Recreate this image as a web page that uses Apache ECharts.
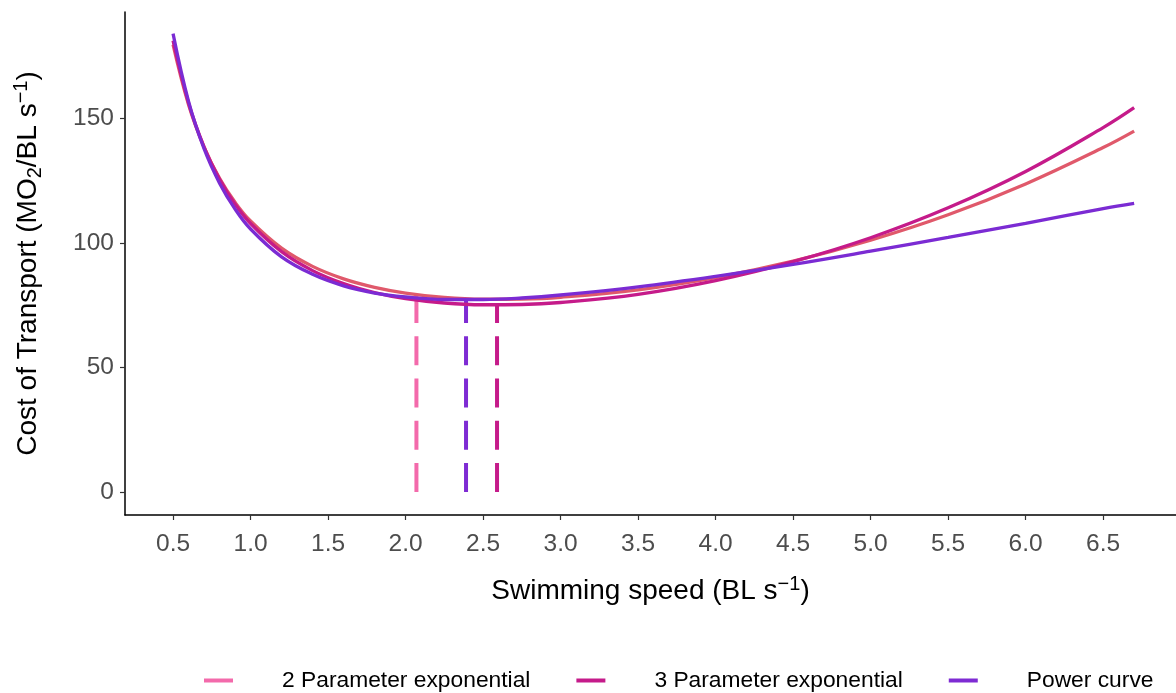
<!DOCTYPE html>
<html>
<head>
<meta charset="utf-8">
<script src="https://cdn.jsdelivr.net/npm/echarts@6/dist/echarts.min.js"></script>
<style>
html,body{margin:0;padding:0;background:#fff;}
#chart{width:1176px;height:693px;}
</style>
</head>
<body>
<div id="chart"></div>
<script>
// ---- data ----
const speeds   = [0.5,0.6,0.7,0.8,0.9,1.0,1.2,1.4,1.6,1.8,2.0,2.25,2.5,2.75,3.0,3.5,4.0,4.5,5.0,5.5,6.0,6.5,6.7];
const cot2P    = [179.6,155.5,138.5,125.9,116.3,108.8,97.9,90.6,85.6,82.2,79.9,78.1,77.4,77.5,78.2,81.2,86.1,92.7,101.1,111.3,123.7,138.3,144.9];
const cot3P    = [181.2,156.2,138.6,125.6,115.6,107.8,96.5,88.9,83.7,80.1,77.7,75.9,75.2,75.3,76.1,79.4,84.9,92.5,102.1,114.1,128.7,146.3,154.3];
const cotPower = [184.0,156.8,137.8,124.0,113.6,105.6,94.4,87.4,82.8,79.9,78.3,77.3,77.3,77.9,79.1,82.4,86.6,91.4,96.7,102.2,107.9,113.8,115.9];
const modelNames    = ['2 Parameter exponential','3 Parameter exponential','Power curve'];
const optimalSpeeds = [2.07, 2.59, 2.39];
const optimalCot    = [79.3, 75.3, 77.2];
const xTicks = [0.5,1.0,1.5,2.0,2.5,3.0,3.5,4.0,4.5,5.0,5.5,6.0,6.5];
const yTicks = [0,50,100,150];

// ---- styling ----
const FONT = 'Liberation Sans';
const vlineColors = ['#F36AAB','#C51B8A','#7E2BD3'];
const curveColors = ['#E0596B','#C51B8A','#7B2BD3'];
const curves = [cot2P, cot3P, cotPower];

const series = [];
modelNames.forEach((name, i) => {
  series.push({
    name: name,
    type: 'line',
    data: [[optimalSpeeds[i], 0], [optimalSpeeds[i], optimalCot[i]]],
    showSymbol: false,
    symbol: 'none',
    itemStyle: {color: vlineColors[i]},
    lineStyle: {color: vlineColors[i], width: 4, type: [29, 13.3]},
    z: 2,
    silent: true
  });
});
modelNames.forEach((name, i) => {
  series.push({
    name: name + ' fit',
    type: 'line',
    data: speeds.map((s, k) => [s, curves[i][k]]),
    smooth: 0.4,
    showSymbol: false,
    symbol: 'none',
    itemStyle: {color: curveColors[i]},
    lineStyle: {color: curveColors[i], width: 3.3},
    z: 3 + i,
    silent: true
  });
});

const chart = echarts.init(document.getElementById('chart'), null, {renderer: 'canvas'});
chart.setOption({
  animation: false,
  backgroundColor: '#fff',
  grid: {left: 125, right: 0, top: 12, bottom: 178, containLabel: false},
  xAxis: {
    type: 'value',
    min: 0.19, max: 6.97,
    name: '{a|Swimming speed (BL s}{sup|−1}{a|)}',
    nameLocation: 'middle',
    nameGap: 59,
    nameTextStyle: {
      fontFamily: FONT, fontSize: 28, color: '#000',
      rich: {
        a: {fontFamily: FONT, fontSize: 28, color: '#000', lineHeight: 34},
        sup: {fontFamily: FONT, fontSize: 20, color: '#000', lineHeight: 14, verticalAlign: 'top'}
      }
    },
    axisLine: {show: true, onZero: false, lineStyle: {color: '#000', width: 1.5}},
    axisTick: {show: true, length: 5, customValues: xTicks, lineStyle: {color: '#333', width: 1.2}},
    axisLabel: {
      customValues: xTicks, margin: 17,
      fontFamily: FONT, fontSize: 24.5, color: '#4D4D4D',
      formatter: v => v.toFixed(1)
    },
    splitLine: {show: false}
  },
  yAxis: {
    type: 'value',
    min: -9.2, max: 192.7,
    name: '{a|Cost of Transport (MO}{sub|2}{a|/BL s}{sup|−1}{a|)}',
    nameLocation: 'middle',
    nameGap: 80,
    nameTextStyle: {
      fontFamily: FONT, fontSize: 28, color: '#000',
      rich: {
        a: {fontFamily: FONT, fontSize: 28, color: '#000', lineHeight: 34},
        sub: {fontFamily: FONT, fontSize: 20, color: '#000', lineHeight: 18, verticalAlign: 'bottom'},
        sup: {fontFamily: FONT, fontSize: 20, color: '#000', lineHeight: 14, verticalAlign: 'top'}
      }
    },
    axisLine: {show: true, onZero: false, lineStyle: {color: '#000', width: 1.5}},
    axisTick: {show: true, length: 5, customValues: yTicks, lineStyle: {color: '#333', width: 1.2}},
    axisLabel: {
      customValues: yTicks, margin: 11,
      fontFamily: FONT, fontSize: 24.5, color: '#4D4D4D'
    },
    splitLine: {show: false}
  },
  legend: {
    data: modelNames,
    left: 199,
    top: 664,
    icon: 'rect',
    itemWidth: 29,
    itemHeight: 4,
    itemGap: 46,
    selectedMode: false,
    textStyle: {fontFamily: FONT, fontSize: 22.8, color: '#000', padding: [0, 0, 0, 44]}
  },
  series: series
});
</script>
</body>
</html>
